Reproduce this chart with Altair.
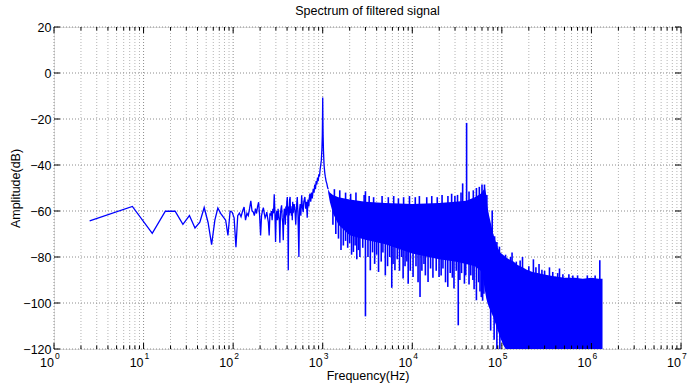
import altair as alt
import pandas as pd

FONT = "Liberation Sans"
BLUE = "#0000ff"
TITLE = "Spectrum of filtered signal"

# ---- sparse low-frequency part of the spectrum (Hz, dB) ----
low_freq = [2.5, 7.5, 12.5, 17.5, 22.5, 27.5, 32.5, 37.5, 42.5, 47.5,
            52.5, 57.5, 62.5, 67.5, 72.5, 77.5, 82.5, 87.5, 92.5, 97.5,
            102.5, 107.5, 112.5, 117.5, 122.5, 127.5, 132.5, 137.5, 142.5, 147.5,
            152.5, 157.5, 162.5, 167.5, 172.5, 177.5, 182.5, 187.5, 192.5, 197.5,
            202.5, 207.5, 212.5, 217.5, 222.5, 227.5, 232.5, 237.5, 242.5, 247.5,
            252.5, 257.5, 262.5, 267.5, 272.5, 277.5, 282.5, 287.5, 292.5, 297.5,
            302.5, 307.5, 312.5, 317.5, 322.5, 327.5, 332.5, 337.5, 342.5, 347.5,
            352.5, 357.5, 362.5, 367.5, 372.5, 377.5, 382.5, 387.5, 392.5, 397.5,
            402.5, 407.5, 412.5, 417.5, 422.5, 427.5, 432.5, 437.5, 442.5, 447.5,
            452.5, 457.5, 462.5, 467.5,
            480, 490, 500, 510, 520, 530, 542, 550, 560, 570,
            582, 592, 605, 615, 632, 645, 660, 671, 685, 700,
            710, 720, 735, 750, 765, 784, 800, 815, 830, 845,
            860, 875, 890, 905, 920, 935, 950, 965, 980, 990,
            995, 1000, 1005, 1010, 1020, 1035, 1055, 1070, 1090, 1110,
            1130, 1150]
low_db = [-64.3, -58.0, -69.7, -60.1, -60.1, -65.8, -62.0, -67.4, -64.9, -58.5,
          -65.0, -74.6, -64.0, -58.7, -61.0, -62.6, -64.0, -70.6, -60.1, -60.5,
          -63.0, -75.7, -62.0, -60.9, -62.5, -60.0, -58.3, -64.0, -61.0, -62.0,
          -59.0, -55.6, -60.0, -60.4, -62.0, -59.0, -61.1, -58.0, -56.2, -62.0,
          -70.6, -62.0, -60.0, -58.5, -61.0, -63.0, -62.0, -60.5, -63.0, -65.0,
          -70.6, -61.0, -62.0, -60.0, -64.0, -59.0, -61.0, -52.7, -60.0, -73.5,
          -62.0, -60.0, -64.0, -59.0, -62.0, -64.0, -73.8, -61.0, -59.0, -57.5,
          -63.0, -65.0, -72.7, -62.0, -59.0, -60.0, -66.0, -58.0, -62.0, -56.0,
          -53.9, -60.0, -85.8, -58.0, -62.0, -55.0, -53.9, -61.0, -58.0, -62.0,
          -59.0, -64.0, -56.0, -61.0,
          -57.0, -59.7, -66.0, -58.0, -53.9, -62.0, -80.0, -60.0, -57.0, -62.0,
          -53.2, -58.0, -60.5, -56.0, -53.9, -59.0, -56.0, -62.9, -55.0, -58.0,
          -54.0, -52.4, -56.0, -52.0, -54.5, -50.3, -52.0, -48.5, -50.5, -47.0,
          -48.5, -45.5, -47.0, -44.0, -45.0, -42.0, -40.0, -38.0, -33.0, -27.0,
          -20.0, -10.7, -20.0, -27.0, -34.0, -40.0, -43.5, -45.2, -47.0, -48.0,
          -49.5, -50.5]

# ---- dense part: upper / lower envelope of the filled band (Hz, dB) ----
dense_freq = [1150, 1200, 1300, 1500, 2000, 3000, 5000, 10000, 20000, 30000,
              40000, 50000, 58000, 62000, 65000, 67000, 69000, 72000, 76000, 80000,
              85000, 90000, 96000, 103000, 110000, 120000, 135000, 150000, 170000, 190000,
              220000, 250000, 290000, 340000, 400000, 500000, 650000, 800000, 1000000, 1200000,
              1330000]
dense_top = [-50.5, -52.0, -53.0, -54.0, -55.0, -56.0, -56.5, -57.0, -56.5, -56.0,
             -55.5, -54.0, -52.5, -51.0, -50.0, -53.0, -58.0, -62.0, -66.0, -69.8,
             -73.0, -76.0, -78.0, -79.0, -80.0, -81.0, -82.0, -83.5, -84.5, -85.5,
             -86.5, -87.0, -87.5, -88.0, -88.5, -89.0, -89.0, -89.5, -89.0, -89.5,
             -89.5]
dense_bot = [-52.0, -56.0, -61.0, -66.0, -70.5, -72.5, -74.5, -78.5, -81.0, -82.0,
             -83.0, -84.0, -86.0, -90.0, -95.0, -98.0, -100.0, -102.0, -104.0, -106.0,
             -109.0, -112.0, -115.0, -118.0, -120.0, -120.0, -120.0, -120.0, -120.0, -120.0,
             -120.0, -120.0, -120.0, -120.0, -120.0, -120.0, -120.0, -120.0, -120.0, -120.0,
             -120.0]

# ---- spikes sticking out of the band, upward (Hz, tip dB, base dB) ----
up_freq = [1350, 1550, 1800, 2050, 2350, 2900, 3000, 3300, 3700, 4600,
           5400, 6200, 7000, 8000, 9300, 10800, 12000, 14500, 16500, 19000,
           21500, 25000, 27500, 29900, 32000, 35000, 36500, 40400, 43000, 48000,
           52000, 56000, 60000, 64000, 68000, 78000, 83000, 88000, 94000, 110000,
           125000, 130000, 145000, 160000, 170000, 200000, 225000, 240000, 260000, 280000,
           300000, 340000, 370000, 420000, 440000, 480000, 560000, 620000, 700000, 900000,
           1100000, 1240000]
up_tip = [-50.5, -51.0, -52.0, -52.5, -52.0, -53.0, -51.4, -53.5, -54.0, -53.5,
          -54.0, -53.5, -54.5, -54.0, -53.5, -54.0, -53.5, -54.0, -53.5, -54.0,
          -53.0, -53.5, -52.5, -53.5, -53.0, -52.0, -48.0, -21.7, -51.5, -51.0,
          -50.0, -49.5, -48.5, -48.5, -53.0, -59.8, -71.0, -73.5, -75.5, -79.0,
          -80.0, -78.0, -82.0, -81.5, -80.0, -84.0, -81.0, -84.5, -83.0, -85.5,
          -86.0, -84.5, -86.5, -87.0, -85.0, -87.5, -87.5, -88.0, -88.0, -88.0,
          -88.0, -81.4]
up_base = [-60.0, -60.0, -60.0, -60.0, -60.0, -60.0, -60.0, -60.0, -60.0, -60.0,
           -60.0, -60.0, -60.0, -60.0, -60.0, -60.0, -60.0, -60.0, -60.0, -60.0,
           -60.0, -60.0, -60.0, -60.0, -60.0, -60.0, -60.0, -60.0, -60.0, -60.0,
           -60.0, -60.0, -60.0, -60.0, -70.0, -80.0, -90.0, -95.0, -95.0, -95.0,
           -95.0, -95.0, -95.0, -95.0, -95.0, -95.0, -95.0, -95.0, -95.0, -95.0,
           -95.0, -95.0, -95.0, -95.0, -95.0, -95.0, -95.0, -95.0, -95.0, -95.0,
           -95.0, -95.0]

# ---- spikes reaching below the band (Hz, tip dB, base dB) ----
down_freq = [1300, 1400, 1500, 1600, 1700, 1800, 1900, 2000, 2100, 2200,
             2300, 2400, 2500, 2600, 2800, 3000, 3200, 3400, 3600, 3800,
             4000, 4200, 4500, 4700, 5000, 5300, 5600, 5900, 6100, 6400,
             6800, 7200, 7600, 7900, 8300, 8700, 9000, 9500, 10200, 11000,
             11600, 12200, 12800, 13500, 14000, 15000, 16000, 17000, 18500, 19900,
             21000, 22000, 23500, 24900, 26500, 28000, 29200, 31000, 32600, 34000,
             35500, 38200, 39500, 43000, 45000, 47500, 49000, 52000, 55000, 57000,
             59000, 61000, 63000, 75000, 82000, 88000, 95000]
down_tip = [-66.0, -70.0, -72.0, -77.0, -75.0, -73.0, -76.0, -74.0, -79.0, -77.8,
            -75.0, -81.0, -77.0, -80.0, -76.0, -105.8, -80.0, -85.8, -78.0, -83.0,
            -79.0, -86.5, -82.0, -78.0, -88.0, -84.0, -80.0, -93.4, -83.0, -85.8,
            -81.0, -86.0, -80.0, -89.4, -84.0, -82.0, -91.6, -86.0, -88.7, -84.0,
            -91.0, -97.4, -86.0, -83.0, -88.0, -90.9, -85.0, -89.0, -86.0, -88.7,
            -88.0, -85.0, -91.0, -93.0, -87.0, -89.0, -93.7, -86.0, -109.7, -90.0,
            -87.0, -91.6, -88.0, -92.0, -88.0, -90.0, -94.0, -98.8, -91.0, -95.0,
            -97.4, -99.0, -96.0, -112.0, -116.0, -120.0, -120.0]
down_base = [-58.0, -60.0, -60.0, -60.0, -60.0, -60.0, -60.0, -60.0, -60.0, -60.0,
             -60.0, -60.0, -60.0, -60.0, -60.0, -60.0, -60.0, -60.0, -60.0, -60.0,
             -60.0, -60.0, -60.0, -60.0, -60.0, -60.0, -60.0, -60.0, -60.0, -60.0,
             -60.0, -60.0, -60.0, -60.0, -60.0, -60.0, -60.0, -60.0, -60.0, -60.0,
             -60.0, -60.0, -60.0, -60.0, -60.0, -60.0, -60.0, -60.0, -60.0, -60.0,
             -60.0, -60.0, -60.0, -60.0, -60.0, -60.0, -60.0, -60.0, -60.0, -60.0,
             -60.0, -60.0, -60.0, -60.0, -60.0, -60.0, -60.0, -60.0, -60.0, -60.0,
             -60.0, -60.0, -60.0, -90.0, -90.0, -90.0, -90.0]

# ---- axes ----
x_major = [1, 10, 100, 1000, 10000, 100000, 1000000, 10000000]
x_exp = ["0", "1", "2", "3", "4", "5", "6", "7"]
x_minor = [m * 10 ** k for k in range(7) for m in range(2, 10)]
y_ticks = [-120, -100, -80, -60, -40, -20, 0, 20]

W, H = 627, 322

low_df = pd.DataFrame({"f": low_freq, "db": low_db})
dense_df = pd.DataFrame({"f": dense_freq, "db": dense_top, "db2": dense_bot})
spike_df = pd.DataFrame({"f": up_freq + down_freq, "db": up_tip + down_tip,
                         "db2": up_base + down_base})
major_df = pd.DataFrame({"f": x_major, "e": x_exp})
minor_df = pd.DataFrame({"f": x_minor})
y_df = pd.DataFrame({"db": y_ticks})
title_df = pd.DataFrame({"t": [TITLE]})

xs = alt.Scale(type="log", domain=[1, 1e7], nice=False)
ys = alt.Scale(domain=[-120, 20], nice=False, zero=False)
xaxis = alt.Axis(labels=False, ticks=False, domain=False, grid=False,
                 title="Frequency(Hz)", titlePadding=20, titleFontSize=12.5,
                 titleFontWeight="normal", titleFont=FONT, titleColor="black")
yaxis = alt.Axis(values=y_ticks, ticks=False, domain=False, grid=False,
                 labelFontSize=12.5, labelFont=FONT, labelColor="black", labelPadding=3,
                 title="Amplitude(dB)", titleFontSize=12.5, titleFont=FONT,
                 titleFontWeight="normal", titleColor="black", titlePadding=0)

X = lambda: alt.X("f:Q", scale=xs, axis=xaxis)
Y = lambda: alt.Y("db:Q", scale=ys, axis=yaxis)

grid_dash = [1, 2]
vgrid_minor = alt.Chart(minor_df).mark_rule(color="#b4b4b4", strokeWidth=1, strokeDash=grid_dash).encode(
    x=X(), y=alt.value(0), y2=alt.value(H))
vgrid_major = alt.Chart(major_df).mark_rule(color="#8c8c8c", strokeWidth=1, strokeDash=grid_dash).encode(
    x=X(), y=alt.value(0), y2=alt.value(H))
hgrid = alt.Chart(y_df).mark_rule(color="#8c8c8c", strokeWidth=1, strokeDash=grid_dash).encode(
    y=Y(), x=alt.value(0), x2=alt.value(W))

band = alt.Chart(dense_df).mark_area(color=BLUE, opacity=1, clip=True).encode(
    x=X(), y=Y(), y2="db2:Q")
spikes = alt.Chart(spike_df).mark_rule(color=BLUE, strokeWidth=1.6, clip=True).encode(
    x=X(), y=Y(), y2="db2:Q")
line = alt.Chart(low_df).mark_line(color=BLUE, strokeWidth=1.3, clip=True).encode(
    x=X(), y=Y())

tk = "black"
tick_b_major = alt.Chart(major_df).mark_rule(color=tk).encode(x=X(), y=alt.value(H), y2=alt.value(H - 6))
tick_t_major = alt.Chart(major_df).mark_rule(color=tk).encode(x=X(), y=alt.value(0), y2=alt.value(6))
tick_b_minor = alt.Chart(minor_df).mark_rule(color=tk).encode(x=X(), y=alt.value(H), y2=alt.value(H - 3.5))
tick_t_minor = alt.Chart(minor_df).mark_rule(color=tk).encode(x=X(), y=alt.value(0), y2=alt.value(3.5))
tick_l = alt.Chart(y_df).mark_rule(color=tk).encode(y=Y(), x=alt.value(0), x2=alt.value(6))
tick_r = alt.Chart(y_df).mark_rule(color=tk).encode(y=Y(), x=alt.value(W), x2=alt.value(W - 6))

lab_ten = alt.Chart(major_df).mark_text(text="10", align="right", baseline="alphabetic",
                                        fontSize=12.5, font=FONT, color="black").encode(
    x=X(), y=alt.value(H + 18))
lab_exp = alt.Chart(major_df).mark_text(align="left", baseline="alphabetic", dx=1,
                                        fontSize=8.5, font=FONT, color="black").encode(
    x=X(), y=alt.value(H + 10), text="e:N")
title_txt = alt.Chart(title_df).mark_text(align="center", baseline="alphabetic",
                                          fontSize=12.5, font=FONT, color="black").encode(
    x=alt.value(W / 2), y=alt.value(-12.5), text="t:N")

chart = alt.layer(
    vgrid_minor, vgrid_major, hgrid, band, spikes, line,
    tick_b_major, tick_t_major, tick_b_minor, tick_t_minor, tick_l, tick_r,
    lab_ten, lab_exp, title_txt,
).properties(
    width=W, height=H,
    padding={"left": 54, "top": 27, "right": 8, "bottom": 37},
    autosize=alt.AutoSizeParams(type="none"),
).configure_view(stroke="black", strokeWidth=1.3).configure(background="white")

chart.save("out.html", embed_options={"renderer": "svg", "actions": False})
